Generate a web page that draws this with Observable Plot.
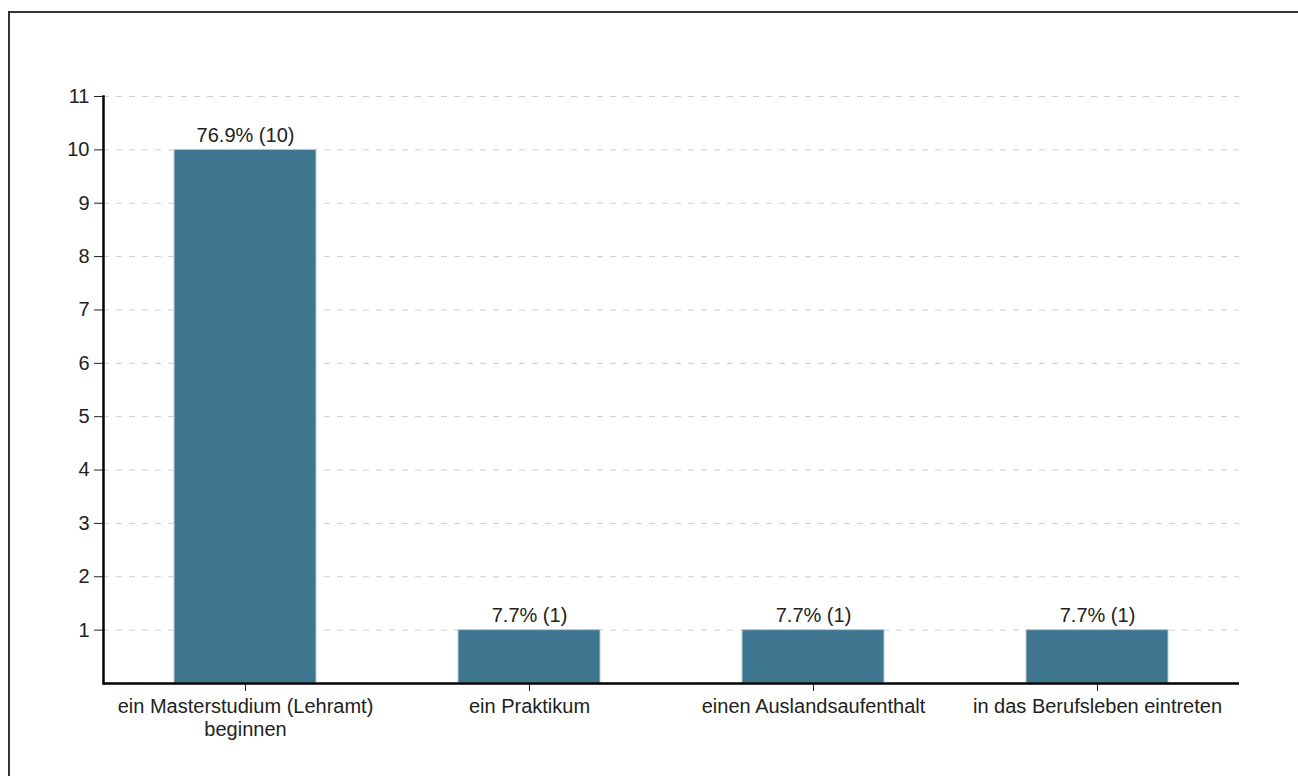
<!DOCTYPE html>
<html>
<head>
<meta charset="utf-8">
<script src="https://cdn.jsdelivr.net/npm/d3@7"></script>
<script src="https://cdn.jsdelivr.net/npm/@observablehq/plot@0.6"></script>
<style>
  html, body { margin: 0; padding: 0; background: #fff; }
  #wrap { position: relative; width: 1298px; height: 776px; overflow: hidden; }
  #border { position: absolute; left: 8px; top: 11px; width: 1400px; height: 900px;
            border-left: 2px solid #333; border-top: 2px solid #333; pointer-events: none; }
  #chart { position: absolute; left: 0; top: 0; }
</style>
</head>
<body>
<div id="wrap">
  <div id="chart"></div>
  <div id="border"></div>
</div>
<script>
const categories = [
  "ein Masterstudium (Lehramt) beginnen",
  "ein Praktikum",
  "einen Auslandsaufenthalt",
  "in das Berufsleben eintreten"
];
const tickLabels = [
  "ein Masterstudium (Lehramt)\nbeginnen",
  "ein Praktikum",
  "einen Auslandsaufenthalt",
  "in das Berufsleben eintreten"
];
const counts = [10, 1, 1, 1];
const percents = [76.9, 7.7, 7.7, 7.7];
const yTicks = [1, 2, 3, 4, 5, 6, 7, 8, 9, 10, 11];

const data = categories.map((c, i) => ({
  category: c,
  count: counts[i],
  label: `${percents[i]}% (${counts[i]})`
}));

const font = "'Liberation Sans', Arial, sans-serif";

const chart = Plot.plot({
  width: 1298,
  height: 776,
  marginLeft: 103,
  marginRight: 59,
  marginTop: 96,
  marginBottom: 93,
  style: { fontFamily: font, fontSize: "20px", color: "#222", background: "#fff" },
  x: { domain: categories, paddingInner: 0.5, paddingOuter: 0.25, label: null },
  y: { domain: [0, 11], label: null },
  marks: [
    Plot.gridY(yTicks, { stroke: "#cfcfcf", strokeOpacity: 1, strokeDasharray: "6,7", strokeWidth: 1 }),
    Plot.barY(data, { x: "category", y: "count", fill: "#3e7690", stroke: "#b9ccd6", strokeWidth: 1 }),
    Plot.text(data, { x: "category", y: "count", text: "label", lineAnchor: "bottom", dy: -8, fontSize: 20, fill: "#222" }),
    Plot.axisY(yTicks, { tickSize: 9, tickPadding: 5, fontSize: 20, stroke: "#222", label: null, tickFormat: d => String(d) }),
    Plot.axisX({ tickSize: 8, tickPadding: 5, fontSize: 20, stroke: "#222", label: null,
                 tickFormat: d => tickLabels[categories.indexOf(d)], lineHeight: 1.15 }),
    Plot.ruleY([0], { stroke: "#000", strokeWidth: 2.5 }),
    Plot.frame({ anchor: "left", stroke: "#000", strokeWidth: 2.5 })
  ]
});
document.getElementById("chart").appendChild(chart);
</script>
</body>
</html>
